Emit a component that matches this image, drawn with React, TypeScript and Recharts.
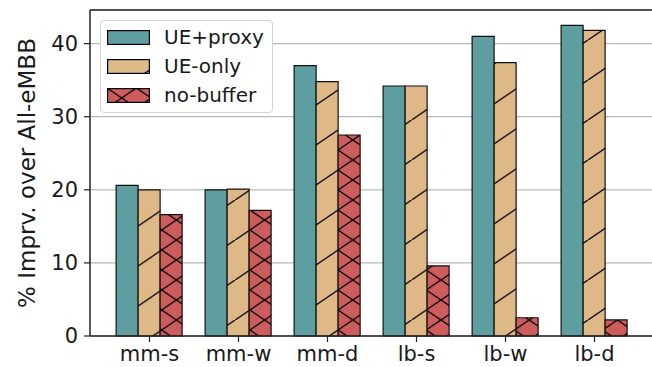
import React from "react";
import {
  BarChart,
  Bar,
  XAxis,
  YAxis,
  CartesianGrid,
  ReferenceLine,
} from "recharts";

const categories = ["mm-s", "mm-w", "mm-d", "lb-s", "lb-w", "lb-d"];
const ueProxy = [20.6, 20.0, 37.0, 34.2, 41.0, 42.5];
const ueOnly = [20.0, 20.1, 34.8, 34.2, 37.4, 41.8];
const noBuffer = [16.6, 17.2, 27.5, 9.6, 2.5, 2.2];
const seriesNames = ["UE+proxy", "UE-only", "no-buffer"];
const yTicks = [0, 10, 20, 30, 40];
const yMax = 44.6;

const data = categories.map((name, i) => ({
  name,
  proxy: ueProxy[i],
  only: ueOnly[i],
  nobuf: noBuffer[i],
}));

const TEAL = "#5f9ea0";
const TAN = "#deb887";
const RED = "#cd5c5c";
const FONT = "'DejaVu Sans', sans-serif";
const TEXT = "#1a1a1a";

// hatch patterns (shared by the chart and the legend swatches)
function Patterns() {
  return (
    <defs>
      <pattern id="hatchSlash" patternUnits="userSpaceOnUse" width={58.8} height={40}>
        <rect width={58.8} height={40} fill={TAN} />
        <line x1={-5.88} y1={44} x2={64.68} y2={-4} stroke="#000" strokeWidth={1.3} />
      </pattern>
      <pattern id="hatchCross" patternUnits="userSpaceOnUse" width={29.4} height={20}>
        <rect width={29.4} height={20} fill={RED} />
        <line x1={-2.94} y1={22} x2={32.34} y2={-2} stroke="#000" strokeWidth={1.3} />
        <line x1={-2.94} y1={-2} x2={32.34} y2={22} stroke="#000" strokeWidth={1.3} />
      </pattern>
    </defs>
  );
}

const swatchFills = [TEAL, "url(#hatchSlash)", "url(#hatchCross)"];

function LegendBox() {
  return (
    <div
      style={{
        position: "absolute",
        left: 100,
        top: 20,
        background: "#fff",
        border: "1px solid #d4d4d4",
        borderRadius: 4,
        width: 171,
        height: 91,
        fontFamily: FONT,
        fontSize: 20,
        color: TEXT,
      }}
    >
      {seriesNames.map((s, i) => (
        <div
          key={s}
          style={{ display: "flex", alignItems: "center", height: 29, marginTop: i === 0 ? 2 : 0 }}
        >
          <svg width={43} height={15} style={{ marginLeft: 6, marginRight: 14 }}>
            <rect x={0.6} y={0.6} width={41.8} height={13.8} fill={swatchFills[i]} stroke="#000" strokeWidth={1.2} />
          </svg>
          <span style={{ lineHeight: "29px" }}>{s}</span>
        </div>
      ))}
    </div>
  );
}

const YLabel = (props: any) => {
  const vb = props.viewBox;
  const x = vb.x + 27;
  const y = vb.y + vb.height / 2;
  return (
    <text
      x={x}
      y={y}
      transform={`rotate(-90, ${x}, ${y})`}
      textAnchor="middle"
      dominantBaseline="central"
      fontFamily={FONT}
      fontSize={23}
      fill={TEXT}
    >
      % Imprv. over All-eMBB
    </text>
  );
};

export default function App() {
  return (
    <div style={{ position: "absolute", left: 0, top: 0, width: 652, height: 367, overflow: "hidden", background: "#fff" }}>
      <BarChart
        width={672}
        height={367}
        data={data}
        margin={{ top: 10, right: 18, bottom: 0, left: 0 }}
        barCategoryGap="12.5%"
        barGap={0}
      >
        <Patterns />
        <CartesianGrid vertical={false} stroke="#b8b8b8" strokeWidth={1.2} />
        <XAxis
          dataKey="name"
          height={31}
          padding={{ left: 15, right: 15 }}
          tickSize={6}
          tickMargin={4}
          axisLine={{ stroke: "#222", strokeWidth: 1.5 }}
          tickLine={{ stroke: "#222", strokeWidth: 1.2 }}
          tick={{ fontFamily: FONT, fontSize: 21, fill: TEXT }}
          interval={0}
        />
        <YAxis
          width={90}
          domain={[0, yMax]}
          ticks={yTicks}
          tickSize={6}
          tickMargin={6}
          axisLine={{ stroke: "#222", strokeWidth: 1.5 }}
          tickLine={{ stroke: "#222", strokeWidth: 1.2 }}
          tick={{ fontFamily: FONT, fontSize: 21, fill: TEXT }}
          label={<YLabel />}
        />
        <ReferenceLine y={yMax} stroke="#222" strokeWidth={1.5} />
        <Bar dataKey="proxy" name={seriesNames[0]} fill={TEAL} stroke="#111" strokeWidth={1.2} isAnimationActive={false} />
        <Bar dataKey="only" name={seriesNames[1]} fill="url(#hatchSlash)" stroke="#111" strokeWidth={1.2} isAnimationActive={false} />
        <Bar dataKey="nobuf" name={seriesNames[2]} fill="url(#hatchCross)" stroke="#111" strokeWidth={1.2} isAnimationActive={false} />
      </BarChart>
      <LegendBox />
    </div>
  );
}
